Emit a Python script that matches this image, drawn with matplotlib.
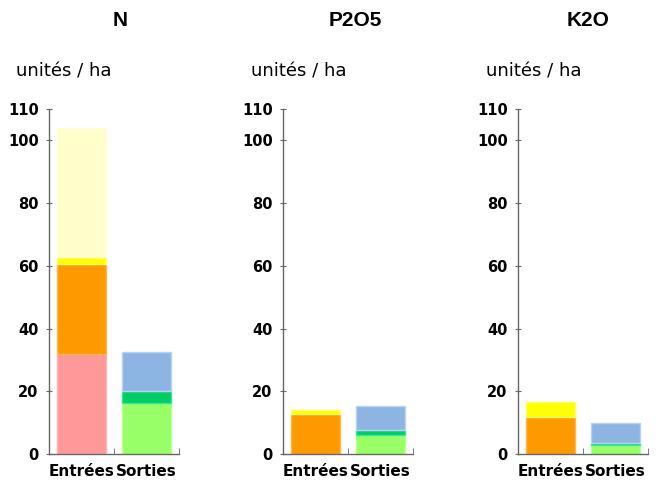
import numpy as np
import matplotlib
matplotlib.use("Agg")
import matplotlib.pyplot as plt

plt.rcParams['font.family'] = ['DejaVu Sans']

# data (unités / ha)
panels = ["N", "P2O5", "K2O"]
categories = ["Entrées", "Sorties"]

# Entrées stacks, bottom to top
entrees_pink = [32, 0, 0]
entrees_orange = [28.7, 12.8, 11.8]
entrees_yellow = [2.1, 1.2, 4.8]
entrees_pale = [41.2, 0, 0]

# Sorties stacks, bottom to top
sorties_lightgreen = [16.2, 6.2, 2.9]
sorties_green = [3.8, 1.3, 0.6]
sorties_blue = [12.5, 7.8, 6.5]

yticks = [0, 20, 40, 60, 80, 100, 110]

entree_layers = [(entrees_pink, "#ff9999", "#ffb3b3"),
                 (entrees_orange, "#ff9900", "#ffb84d"),
                 (entrees_yellow, "#ffff00", "#ffff66"),
                 (entrees_pale, "#ffffcc", "#ffffe0")]
sortie_layers = [(sorties_lightgreen, "#99ff66", "#bbff99"),
                 (sorties_green, "#00cc66", "#33e699"),
                 (sorties_blue, "#8eb4e3", "#b8d4f0")]

fig = plt.figure(figsize=(6.6, 4.83), dpi=100)

lefts = [49, 283, 518]
title_x = [120, 355, 588]
unit_x = [16, 251, 486]

for i, name in enumerate(panels):
    ax = fig.add_axes([lefts[i] / 660, 1 - 454 / 483, 130 / 660, 345 / 483])

    bottom = 0.0
    for vals, col, edge in entree_layers:
        if vals[i] > 0:
            ax.bar(0, vals[i], width=0.75, bottom=bottom, color=col,
                   edgecolor=edge, linewidth=1)
        bottom += vals[i]
    bottom = 0.0
    for vals, col, edge in sortie_layers:
        if vals[i] > 0:
            ax.bar(1, vals[i], width=0.75, bottom=bottom, color=col,
                   edgecolor=edge, linewidth=1)
        bottom += vals[i]

    ax.set_xlim(-0.5, 1.5)
    ax.set_ylim(0, 110)
    ax.set_yticks(yticks)
    ax.set_yticklabels([str(t) for t in yticks], fontsize=10.5, fontweight='bold')
    ax.set_xticks([0, 1])
    ax.set_xticklabels(categories, fontsize=11, fontweight='bold')
    ax.tick_params(axis='x', which='major', length=0, pad=7)
    ax.set_xticks([0.5, 1.5], minor=True)
    ax.tick_params(axis='x', which='minor', direction='in', length=4,
                   color='#666666')
    ax.tick_params(axis='y', direction='inout', length=5, color='#666666', pad=5)

    for s in ['top', 'right']:
        ax.spines[s].set_visible(False)
    for s in ['left', 'bottom']:
        ax.spines[s].set_color('#666666')
        ax.spines[s].set_linewidth(1)

    fig.text(title_x[i] / 660, 1 - 21 / 483, name, ha='center', va='center',
             fontsize=15, fontweight='bold', family='Liberation Sans')
    fig.text(unit_x[i] / 660, 1 - 71 / 483, "unités / ha", ha='left',
             va='center', fontsize=13)

fig.savefig("out.png", dpi=100)
